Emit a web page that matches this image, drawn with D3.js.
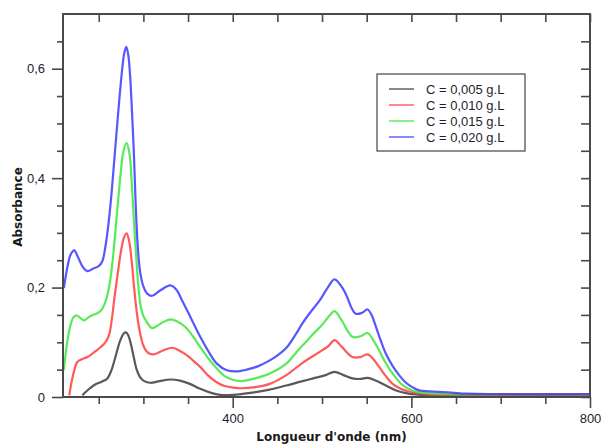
<!DOCTYPE html>
<html><head><meta charset="utf-8">
<script src="https://cdn.jsdelivr.net/npm/d3@7/dist/d3.min.js"></script>
<style>
html,body{margin:0;padding:0;background:#fff;}
svg{display:block;}
</style></head>
<body><svg id="c" width="601" height="444"></svg>
<script>
// ---- data (wavelength nm, absorbance) ----
const seriesNames = ["C = 0,005 g.L", "C = 0,010 g.L", "C = 0,015 g.L", "C = 0,020 g.L"];
const seriesColors = ["#3c3c3c", "#ff3c3c", "#3ce63c", "#3a3aff"];

const black = [
 [231.7,0.003],[236,0.010],[241,0.017],[246,0.023],[252,0.027],[256,0.030],[259.7,0.034],[264,0.048],[269,0.075],
 [274,0.103],[278,0.116],[280.5,0.118],[283,0.113],[286,0.097],[289.3,0.072],[292.5,0.050],[296,0.037],
 [301,0.029],[307.9,0.026],[318,0.029],[330,0.032],[341,0.030],[352,0.024],[363.6,0.015],[375,0.008],
 [386,0.004],[400,0.004],[422,0.008],[440,0.013],[460,0.021],[476,0.028],[490,0.034],[504,0.040],
 [514,0.046],[524,0.040],[534,0.034],[543,0.033],[551,0.035],[560,0.030],[571.5,0.021],[583,0.012],
 [594,0.007],[610,0.004],[630,0.003],[700,0.003],[800,0.003]
];
const red = [
 [217,0.003],[221,0.038],[226,0.064],[231,0.069],[237.4,0.073],[245,0.082],[252,0.091],[257,0.099],
 [261.5,0.113],[264.5,0.140],[267.5,0.180],[271,0.222],[274.5,0.262],[278,0.290],[281.2,0.299],
 [284,0.285],[286.8,0.250],[289.3,0.205],[291.5,0.170],[294,0.138],[296.8,0.113],[299.5,0.096],[302.3,0.086],
 [306,0.080],[311.6,0.078],[322,0.085],[332,0.090],[340,0.085],[348.8,0.076],[356,0.066],[363.6,0.055],
 [372,0.040],[382,0.027],[391,0.020],[400.7,0.017],[410,0.016],[425,0.018],[441.5,0.024],[460,0.040],
 [478.6,0.063],[497,0.082],[507,0.093],[514,0.104],[522,0.092],[534,0.073],[543,0.073],[551,0.078],
 [557,0.070],[564,0.055],[571,0.039],[579,0.024],[588,0.015],[597,0.010],[610,0.006],[630,0.004],[700,0.004],[800,0.004]
];
const green = [
 [211,0.049],[214.5,0.098],[218.8,0.134],[222,0.146],[225.5,0.149],[229,0.145],[233.6,0.140],[238,0.145],
 [242,0.149],[248.5,0.153],[252.5,0.158],[256,0.168],[259.5,0.185],[262.5,0.210],[265.5,0.248],[268.5,0.300],
 [271.5,0.355],[274.5,0.408],[277.5,0.448],[281.2,0.464],[284.5,0.444],[287,0.390],[289.5,0.320],
 [292,0.255],[294.5,0.200],[297,0.166],[299.5,0.150],[303,0.139],[309.8,0.126],[320,0.135],[330.2,0.142],
 [338,0.138],[346.9,0.128],[355,0.112],[363.6,0.091],[373,0.070],[382.2,0.052],[391,0.038],[400.7,0.031],
 [410,0.029],[425,0.034],[441.5,0.043],[460,0.061],[473,0.085],[486,0.108],[500,0.132],[508,0.148],[514,0.157],
 [522,0.140],[534,0.110],[543,0.111],[551,0.117],[557,0.105],[564,0.085],[571,0.063],[579,0.043],[590,0.022],
 [601,0.012],[615,0.007],[640,0.005],[700,0.005],[800,0.005]
];
const blue = [
 [211,0.199],[215,0.238],[218.5,0.260],[222.5,0.268],[227,0.255],[232,0.238],[237.4,0.230],[244,0.235],
 [250,0.239],[254,0.248],[257.5,0.275],[261,0.318],[264.5,0.375],[268.5,0.455],[272.6,0.535],[276,0.595],
 [278.5,0.628],[280.8,0.640],[283,0.626],[285,0.590],[287,0.530],[289.3,0.448],[291.3,0.355],[293.2,0.288],
 [295,0.248],[297,0.222],[300,0.202],[304.2,0.189],[309.8,0.185],[319,0.195],[330.2,0.204],[337,0.196],
 [343.2,0.177],[353,0.145],[363.6,0.110],[373,0.083],[382.2,0.061],[393.3,0.049],[406,0.047],[415.6,0.050],
 [428,0.056],[441.5,0.067],[451,0.077],[460.1,0.090],[470,0.113],[478.6,0.136],[488,0.157],[497.2,0.176],
 [506,0.199],[513.9,0.215],[520,0.206],[527,0.187],[533,0.163],[538,0.152],[545,0.154],[551,0.160],[556,0.148],
 [560.4,0.128],[566,0.102],[571.5,0.079],[579,0.057],[586.3,0.040],[594,0.026],[601.1,0.018],[608.6,0.012],
 [625,0.010],[645,0.008],[662,0.006],[700,0.0055],[800,0.0055]
];
const seriesData = [black, red, green, blue];

const xMajor = [400, 600, 800];
const xMinor = [250, 300, 350, 450, 500, 550, 650, 700, 750];
const yMajor = [0, 0.2, 0.4, 0.6];
const yMinor = [0.05, 0.1, 0.15, 0.25, 0.3, 0.35, 0.45, 0.5, 0.55, 0.65];

// ---- drawing ----
const svg = d3.select("#c");
const L = 63, R = 590, T = 14, B = 397;
const x = d3.scaleLinear().domain([210, 800]).range([L, R]);
const y = d3.scaleLinear().domain([0, 0.7]).range([B, T]);
const fmt = d => d === 0 ? "0" : d.toFixed(1).replace(".", ",");
const axisCol = "#4a4a4a";

function styleAxis(g) {
  g.select(".domain").remove();
  g.selectAll(".tick line").attr("stroke", axisCol).attr("stroke-width", 1.6);
  g.selectAll(".tick text").attr("fill", "#1e1e2e")
    .style("font-family", "'Liberation Sans', Arial, sans-serif").style("font-size", "13px");
}

// curves
const line = d3.line().x(d => x(d[0])).y(d => y(d[1])).curve(d3.curveCatmullRom.alpha(0.5));
const plot = svg.append("g");
seriesData.forEach((s, i) => {
  plot.append("path").datum(s).attr("d", line)
    .attr("fill", "none").attr("stroke", seriesColors[i])
    .attr("stroke-width", 2.2).attr("stroke-opacity", 0.85)
    .attr("stroke-linejoin", "round");
});

// axes
svg.append("g").attr("transform", `translate(${L},0)`)
  .call(d3.axisLeft(y).tickValues(yMajor).tickSize(11).tickPadding(7).tickFormat(fmt)).call(styleAxis);
svg.append("g").attr("transform", `translate(${L},0)`)
  .call(d3.axisLeft(y).tickValues(yMinor).tickSize(6).tickFormat("")).call(styleAxis);
svg.append("g").attr("transform", `translate(${R},0)`)
  .call(d3.axisRight(y).tickValues(yMajor.concat(yMinor)).tickSize(-9).tickFormat("")).call(styleAxis);
svg.append("g").attr("transform", `translate(0,${B})`)
  .call(d3.axisBottom(x).tickValues(xMajor).tickSize(11).tickPadding(6).tickFormat(d3.format("d"))).call(styleAxis);
svg.append("g").attr("transform", `translate(0,${B})`)
  .call(d3.axisBottom(x).tickValues(xMinor).tickSize(7).tickFormat("")).call(styleAxis);
svg.append("g").attr("transform", `translate(0,${T})`)
  .call(d3.axisTop(x).tickValues(xMajor.concat(xMinor)).tickSize(-8).tickFormat("")).call(styleAxis);

// frame
svg.append("rect").attr("x", L).attr("y", T).attr("width", R - L).attr("height", B - T)
  .attr("fill", "none").attr("stroke", axisCol).attr("stroke-width", 2);

// axis titles
svg.append("text").attr("x", (L + R) / 2 + 5).attr("y", 441)
  .attr("text-anchor", "middle").style("font-family", "'DejaVu Sans', sans-serif")
  .style("font-weight", "bold").style("font-size", "12px").attr("fill", "#1a1a1a")
  .text("Longueur d'onde (nm)");
svg.append("text").attr("transform", "translate(22,207) rotate(-90)")
  .attr("text-anchor", "middle").style("font-family", "'DejaVu Sans', sans-serif")
  .style("font-weight", "bold").style("font-size", "12px").attr("fill", "#1a1a1a")
  .text("Absorbance");

// legend
const lg = svg.append("g");
lg.append("rect").attr("x", 377).attr("y", 74).attr("width", 148).attr("height", 77)
  .attr("fill", "#fff").attr("stroke", "#444").attr("stroke-width", 1.2);
seriesNames.forEach((n, i) => {
  const yy = 89 + i * 16;
  lg.append("line").attr("x1", 389).attr("x2", 414).attr("y1", yy).attr("y2", yy)
    .attr("stroke", seriesColors[i]).attr("stroke-width", 2).attr("stroke-opacity", 0.6);
  lg.append("text").attr("x", 426).attr("y", yy).attr("dy", "0.35em")
    .style("font-family", "'Liberation Sans', Arial, sans-serif").style("font-size", "13px")
    .attr("fill", "#1e1e2e").text(n);
});
</script></body></html>
